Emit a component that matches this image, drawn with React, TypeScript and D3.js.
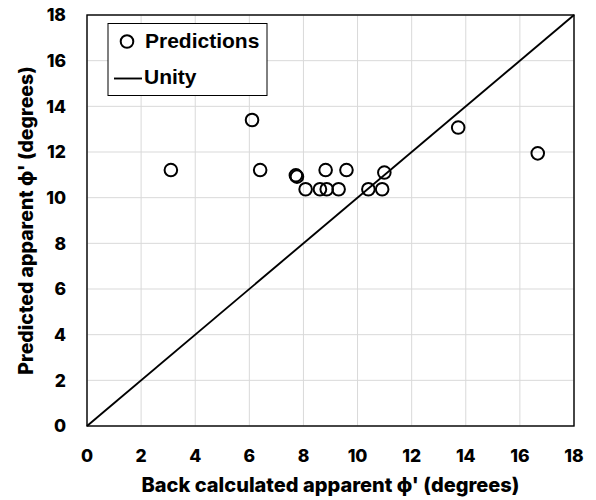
import React from "react";
import * as d3 from "d3";

const backCalc = [3.1, 6.1, 6.4, 7.72, 7.76, 8.08, 8.61, 8.86, 8.82, 9.3, 9.59, 10.4, 10.91, 10.99, 13.72, 16.66];
const predicted = [11.21, 13.4, 11.21, 10.98, 10.92, 10.37, 10.37, 10.37, 11.21, 10.37, 11.21, 10.37, 10.37, 11.1, 13.07, 11.94];
const ticks = [0, 2, 4, 6, 8, 10, 12, 14, 16, 18];
const unity = [0, 18];

const W = 596, H = 500;
const L = 87, R = 574, T = 15, B = 426;

export default function App() {
  const x = d3.scaleLinear().domain([0, 18]).range([L, R]);
  const y = d3.scaleLinear().domain([0, 18]).range([B, T]);
  const font = "Inter, 'Liberation Sans', Arial, sans-serif";
  const lfont = "'Liberation Sans', Arial, sans-serif";
  return (
    <svg width={W} height={H} style={{ position: "absolute", left: 0, top: 0, background: "#fff" }}>
      {ticks.map((t) => (
        <g key={"g" + t}>
          <line x1={x(t)} x2={x(t)} y1={T} y2={B} stroke="#d9d9d9" strokeWidth={1} />
          <line x1={L} x2={R} y1={y(t)} y2={y(t)} stroke="#d9d9d9" strokeWidth={1} />
        </g>
      ))}
      <rect x={L} y={T} width={R - L} height={B - T} fill="none" stroke="#000" strokeWidth={1.4} />
      <line x1={x(unity[0])} y1={y(unity[0])} x2={x(unity[1])} y2={y(unity[1])} stroke="#000" strokeWidth={1.9} />
      {backCalc.map((v, i) => (
        <circle key={"p" + i} cx={x(v)} cy={y(predicted[i])} r={6.3} fill="none" stroke="#000" strokeWidth={2} />
      ))}
      {ticks.map((t) => (
        <text key={"xt" + t} x={x(t)} y={462} textAnchor="middle" fontFamily={font} fontWeight={800} fontSize={17.5} fill="#000">{t}</text>
      ))}
      {ticks.map((t) => (
        <text key={"yt" + t} x={66} y={y(t)} dy="0.36em" textAnchor="end" fontFamily={font} fontWeight={800} fontSize={17.5} fill="#000">{t}</text>
      ))}
      <text x={(L + R) / 2} y={492} textAnchor="middle" fontFamily={font} fontWeight={800} fontSize={20} fill="#000">Back calculated apparent ϕ' (degrees)</text>
      <text transform={`translate(33,${(T + B) / 2}) rotate(-90)`} textAnchor="middle" fontFamily={font} fontWeight={800} fontSize={19.5} fill="#000">Predicted apparent ϕ' (degrees)</text>
      <rect x={108} y={23.5} width={159} height={72} fill="#fff" stroke="#000" strokeWidth={1} />
      <circle cx={127} cy={41.5} r={6.3} fill="none" stroke="#000" strokeWidth={2} />
      <text x={145} y={48.3} fontFamily={lfont} fontWeight={700} fontSize={21} fill="#000">Predictions</text>
      <line x1={114} x2={142} y1={78.5} y2={78.5} stroke="#000" strokeWidth={1.9} />
      <text x={144} y={84.3} fontFamily={lfont} fontWeight={700} fontSize={21} fill="#000">Unity</text>
    </svg>
  );
}
